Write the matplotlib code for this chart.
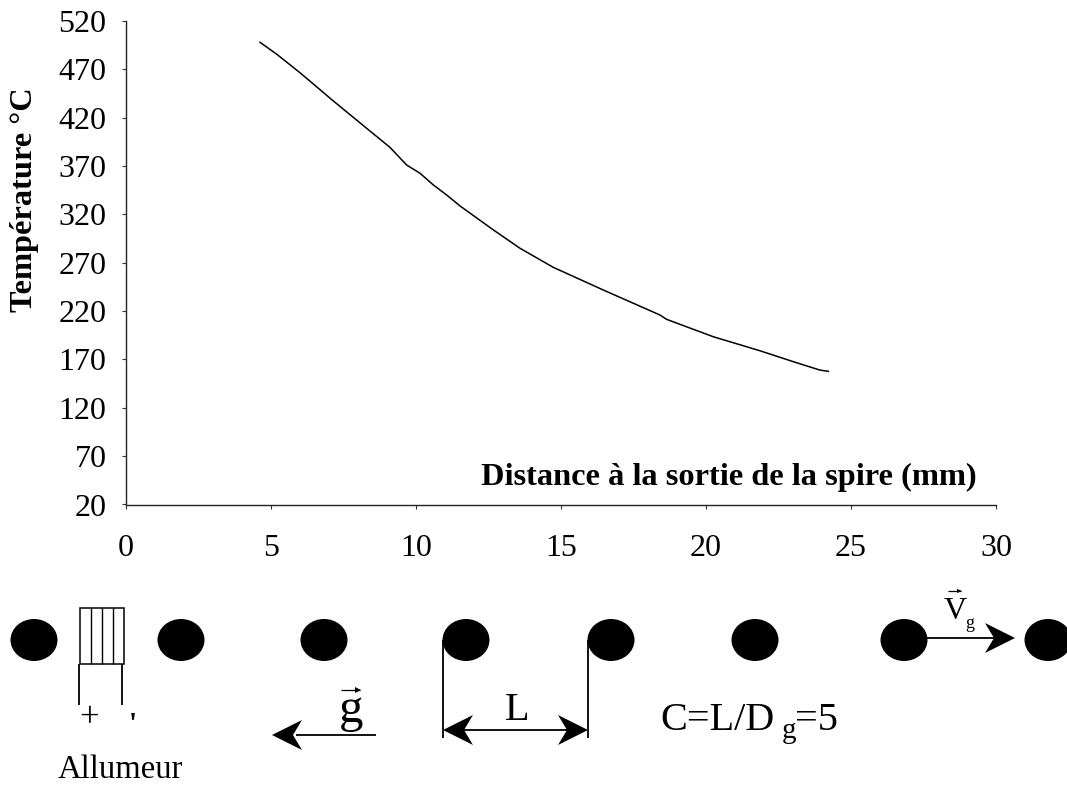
import matplotlib
matplotlib.use("Agg")
import matplotlib.pyplot as plt
from matplotlib.patches import Ellipse, Polygon, Rectangle

plt.rcParams['font.family'] = ['Liberation Serif', 'DejaVu Serif']

# ---- data ----
distance = [4.62, 5.20, 6.00, 7.15, 8.30, 9.10, 9.68, 10.14, 10.60, 11.06, 11.52,
            12.67, 13.59, 14.73, 16.46, 18.41, 18.64, 20.25, 21.86, 23.01, 23.93, 24.22]
temperature = [498, 485.6, 466.5, 437.3, 409, 389.4, 371, 362.5, 350.4, 340, 328.7,
               303.9, 284.9, 265.3, 241.8, 216, 211.5, 193.5, 179, 167.7, 159, 157.7]
x_ticks = [0, 5, 10, 15, 20, 25, 30]
y_ticks = [20, 70, 120, 170, 220, 270, 320, 370, 420, 470, 520]
x_title = "Distance à la sortie de la spire (mm)"
y_title = "Température °C"

# schematic, in picture pixels
bead_x = [34, 181, 324, 466, 611, 755, 904, 1048]
coil_x = [91, 102, 113]

W, H = 1067, 785
fig = plt.figure(figsize=(W / 100, H / 100), dpi=100, facecolor='white')
L, R, T, B = 126, 996, 21, 504.5
ax = fig.add_axes([L / W, 1 - B / H, (R - L) / W, (B - T) / H])
ax.plot(distance, temperature, color='black', lw=1.1)
ax.set_xlim(0, 30)
ax.set_ylim(20, 520)
ax.set_xticks(x_ticks)
ax.set_yticks(y_ticks)
ax.tick_params(axis='both', labelsize=23, length=3, width=0.8, direction='out', color='#333333')
ax.tick_params(axis='x', pad=18)
ax.tick_params(axis='y', pad=11)
for s in ('top', 'right'):
    ax.spines[s].set_visible(False)
for s in ('left', 'bottom'):
    ax.spines[s].set_linewidth(1.0)
    ax.spines[s].set_color('#222222')
fig.text(977 / W, 1 - 477 / H, x_title, ha='right', va='center', fontsize=23.3, fontweight='bold')
fig.text(25 / W, 1 - 200 / H, y_title, rotation=90, ha='center', va='center', fontsize=23.3, fontweight='bold')

# overlay in pixel coordinates for the schematic
ov = fig.add_axes([0, 0, 1, 1], facecolor='none')
ov.set_xlim(0, W)
ov.set_ylim(H, 0)
ov.axis('off')

for bx in bead_x:
    ov.add_patch(Ellipse((bx, 640), 47, 42, color='black', lw=0))


def arrow_head(tx, ty, d):
    pts = [(tx, ty), (tx - d * 30, ty - 15), (tx - d * 21, ty), (tx - d * 30, ty + 15)]
    ov.add_patch(Polygon(pts, closed=True, color='black', lw=0))


def seg(x0, y0, x1, y1, lw=1.3):
    ov.plot([x0, x1], [y0, y1], color='black', lw=lw, solid_capstyle='butt')


# igniter coil
ov.add_patch(Rectangle((80, 608), 44, 56, fill=False, ec='black', lw=1.1))
for cx in coil_x:
    seg(cx, 608, cx, 664, 1.0)
seg(79, 664, 79, 705)
seg(122, 664, 122, 705)
ov.text(89, 719, "+", fontsize=25, ha='center', va='center')
ov.text(132.5, 725, "'", fontsize=21, ha='center', va='center', fontweight='bold')
ov.text(120.5, 770, "Allumeur", fontsize=23.5, ha='center', va='center')

# gravity arrow
seg(296, 735, 376, 735)
arrow_head(272, 735, -1)
ov.text(351, 722, "g", fontsize=35, ha='center', va='baseline')
seg(341, 690, 360, 690, 0.9)
ov.add_patch(Polygon([(361, 690), (355, 687), (355, 693)], closed=True, color='black', lw=0))

# spacing
seg(443, 640, 443, 738)
seg(588, 640, 588, 738)
seg(460, 730, 570, 730)
arrow_head(443, 730, -1)
arrow_head(588, 730, 1)
ov.text(517, 720, "L", fontsize=29, ha='center', va='baseline')
ov.text(660, 730, "C=L/D", fontsize=29, ha='left', va='baseline')
ov.text(789, 738, "g", fontsize=21, ha='center', va='baseline')
ov.text(795, 730, "=5", fontsize=29, ha='left', va='baseline')

# gas velocity
seg(927, 638, 995, 638)
arrow_head(1015, 638, 1)
ov.text(955, 619, "V", fontsize=23, ha='center', va='baseline')
ov.text(970, 628, "g", fontsize=13, ha='center', va='baseline')
seg(948, 591, 961, 591, 0.9)
ov.add_patch(Polygon([(962, 591), (957, 589), (957, 593)], closed=True, color='black', lw=0))

fig.savefig('out.png', dpi=100, facecolor='white')
